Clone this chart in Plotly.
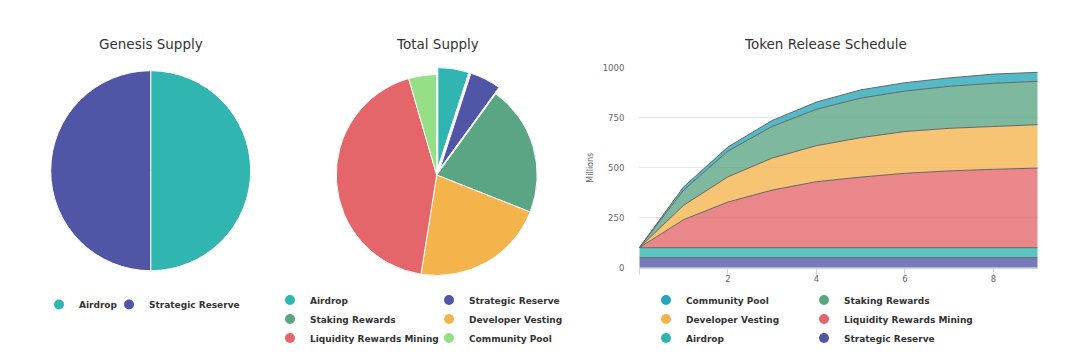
import plotly.graph_objects as go

# ---------------- data ----------------
genesis_labels = ["Airdrop", "Strategic Reserve"]
genesis_values = [50, 50]

total_labels = ["Airdrop", "Strategic Reserve", "Staking Rewards",
                "Developer Vesting", "Liquidity Rewards Mining", "Community Pool"]
total_values = [50, 50, 210, 215, 430, 45]

years = [0, 1, 2, 3, 4, 5, 6, 7, 8, 9]
strategic_reserve = [50, 50, 50, 50, 50, 50, 50, 50, 50, 50]
airdrop = [50, 50, 50, 50, 50, 50, 50, 50, 50, 50]
liquidity_mining = [0, 140, 228, 288, 330, 353, 372, 384, 392, 398]
developer_vesting = [0, 72, 126, 160, 180, 197, 209, 213, 214, 217]
staking_rewards = [0, 76, 129, 158, 182, 198, 202, 210, 216, 217]
community_pool = [0, 16, 20, 30, 36, 41, 42, 42, 46, 45]

x_tick_values = [0, 2, 4, 6, 8]
x_tick_labels = ["", "2", "4", "6", "8"]
y_tick_values = [0, 250, 500, 750, 1000]

# ---------------- styles ----------------
W, H = 1080, 360
PIE_COLORS = {
    "Airdrop": "#30b5b0",
    "Strategic Reserve": "#5055a6",
    "Staking Rewards": "#5aa584",
    "Developer Vesting": "#f5b34b",
    "Liquidity Rewards Mining": "#e4656a",
    "Community Pool": "#95e086",
}
AREA_COLORS = dict(PIE_COLORS)
AREA_COLORS["Community Pool"] = "#24a6b8"

FONT = "'DejaVu Sans', Verdana, sans-serif"
LEG_FONT = dict(family=FONT, size=9, color="#333333", weight="bold")
TITLE_FONT = dict(family=FONT, size=13.5, color="#333333")
TICK_FONT = dict(family=FONT, size=8.5, color="#666666")


def px_x(p):
    return p / W


def px_y(p):
    return (H - p) / H


def rgba(hexc, a):
    h = hexc.lstrip("#")
    r, g, b = int(h[0:2], 16), int(h[2:4], 16), int(h[4:6], 16)
    return f"rgba({r},{g},{b},{a})"


fig = go.Figure()

# Genesis supply pie
fig.add_trace(go.Pie(
    labels=genesis_labels, values=genesis_values, sort=False,
    direction="clockwise", rotation=0, textinfo="none",
    marker=dict(colors=[PIE_COLORS[l] for l in genesis_labels],
                line=dict(color="#ffffff", width=1)),
    domain=dict(x=[px_x(50.7), px_x(250.7)], y=[px_y(270.7), px_y(70.7)]),
    showlegend=False, name="Genesis Supply",
))

# Total supply pie (two slices pulled out)
pull = [0.07 if l in ("Airdrop", "Strategic Reserve") else 0 for l in total_labels]
cx, cy, half = 436.7, 175.0, 100.5 * 1.07
fig.add_trace(go.Pie(
    labels=total_labels, values=total_values, sort=False,
    direction="clockwise", rotation=0, textinfo="none", pull=pull,
    marker=dict(colors=[PIE_COLORS[l] for l in total_labels],
                line=dict(color="#ffffff", width=1)),
    domain=dict(x=[px_x(cx - half), px_x(cx + half)], y=[px_y(cy + half), px_y(cy - half)]),
    showlegend=False, name="Total Supply",
))

# Token release schedule (stacked areas, bottom to top)
area_series = [
    ("Strategic Reserve", strategic_reserve),
    ("Airdrop", airdrop),
    ("Liquidity Rewards Mining", liquidity_mining),
    ("Developer Vesting", developer_vesting),
    ("Staking Rewards", staking_rewards),
    ("Community Pool", community_pool),
]
for name, vals in area_series:
    fig.add_trace(go.Scatter(
        x=years, y=vals, name=name, mode="lines", stackgroup="release",
        line=dict(color="#666666", width=1),
        fillcolor=rgba(AREA_COLORS[name], 0.78),
        legendgroup="area_" + name, showlegend=False,
        xaxis="x", yaxis="y",
    ))


# legend entries (circle markers)
def legend_entry(name, color, legend, group=None, width=None):
    fig.add_trace(go.Scatter(
        x=[None], y=[None], mode="markers", name=name,
        marker=dict(color=color, size=10, symbol="circle"),
        legend=legend, showlegend=True, hoverinfo="skip",
        legendgroup=group, legendwidth=width, xaxis="x", yaxis="y",
    ))


legend_entry("Airdrop", PIE_COLORS["Airdrop"], "legend", width=25)
legend_entry("Strategic Reserve", PIE_COLORS["Strategic Reserve"], "legend")
for l in ["Airdrop", "Staking Rewards", "Liquidity Rewards Mining"]:
    legend_entry(l, PIE_COLORS[l], "legend2")
for l in ["Strategic Reserve", "Developer Vesting", "Community Pool"]:
    legend_entry(l, PIE_COLORS[l], "legend3")
for l in ["Community Pool", "Developer Vesting", "Airdrop"]:
    legend_entry(l, AREA_COLORS[l], "legend4", "area_" + l)
for l in ["Staking Rewards", "Liquidity Rewards Mining", "Strategic Reserve"]:
    legend_entry(l, AREA_COLORS[l], "legend5", "area_" + l)

leg_common = dict(font=LEG_FONT, bgcolor="rgba(0,0,0,0)", borderwidth=0,
                  xanchor="left", yanchor="top", tracegroupgap=0,
                  traceorder="normal")

fig.update_layout(
    width=W, height=H, autosize=False,
    margin=dict(l=0, r=0, t=0, b=0, autoexpand=False),
    paper_bgcolor="#ffffff", plot_bgcolor="#ffffff",
    font=dict(family=FONT, color="#333333"),
    xaxis=dict(
        domain=[px_x(639.3), px_x(1037.7)], range=[0, 9],
        tickvals=x_tick_values, ticktext=x_tick_labels,
        showgrid=False, zeroline=False, showline=True, linecolor="#ccd6eb", linewidth=1,
        ticks="outside", ticklen=6, tickcolor="#ccd6eb", ticklabelstandoff=-3,
        tickfont=TICK_FONT, fixedrange=True,
    ),
    yaxis=dict(
        domain=[px_y(267.7), px_y(67.7)], range=[0, 1000],
        tickvals=y_tick_values, showgrid=True, gridcolor="#e6e6e6", gridwidth=1,
        zeroline=False, showline=False, ticks="", ticklabelstandoff=14,
        tickfont=TICK_FONT,
        title=dict(text="Millions", font=dict(family=FONT, size=8, color="#666666"), standoff=7),
        fixedrange=True,
    ),
    legend=dict(orientation="h", x=px_x(39), y=px_y(290), **leg_common),
    legend2=dict(orientation="v", x=px_x(270), y=px_y(285.5), **leg_common),
    legend3=dict(orientation="v", x=px_x(429), y=px_y(285.5), **leg_common),
    legend4=dict(orientation="v", x=px_x(646), y=px_y(285.5), **leg_common),
    legend5=dict(orientation="v", x=px_x(804), y=px_y(285.5), **leg_common),
    annotations=[
        dict(text="Genesis Supply", x=px_x(151), y=px_y(44), xref="paper", yref="paper",
             showarrow=False, xanchor="center", yanchor="middle", font=TITLE_FONT),
        dict(text="Total Supply", x=px_x(437), y=px_y(44), xref="paper", yref="paper",
             showarrow=False, xanchor="center", yanchor="middle", font=TITLE_FONT),
        dict(text="Token Release Schedule", x=px_x(825), y=px_y(44), xref="paper", yref="paper",
             showarrow=False, xanchor="center", yanchor="middle", font=TITLE_FONT),
    ],
)

fig.write_html("out.html", config={"displayModeBar": False},
               post_script="document.body.style.margin='0';")
